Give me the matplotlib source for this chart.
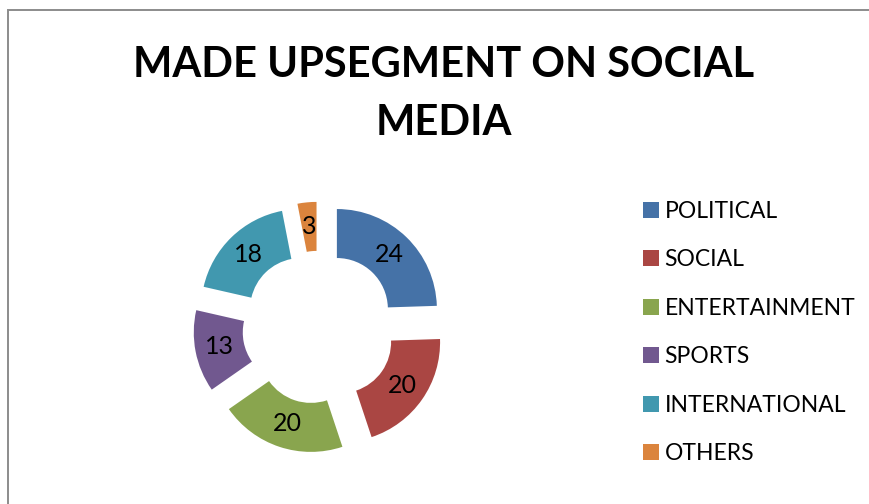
import matplotlib.pyplot as plt
from matplotlib.patches import Rectangle

categories = ['POLITICAL', 'SOCIAL', 'ENTERTAINMENT', 'SPORTS', 'INTERNATIONAL', 'OTHERS']
counts = [24, 20, 20, 13, 18, 3]
colors = ['#4572A7', '#AA4643', '#89A54E', '#71588F', '#4198AF', '#DB843D']

plt.rcParams['font.family'] = ['Lato', 'DejaVu Sans']

W, H = 869, 504
fig = plt.figure(figsize=(W / 100, H / 100), dpi=100)

# chart area frame (only top and left edges are visible)
fig.patches.append(Rectangle((8 / W, -0.5), 2, (H - 10) / H + 0.5,
                             transform=fig.transFigure, fill=False,
                             edgecolor='#8c8c8c', linewidth=1.4))

fig.text(444 / W, 1 - 77 / H, 'MADE UPSEGMENT ON SOCIAL', ha='center',
         va='baseline', fontsize=30, fontweight='bold')
fig.text(444 / W, 1 - 135 / H, 'MEDIA', ha='center',
         va='baseline', fontsize=30, fontweight='bold')

# doughnut: 1 data unit = 100 px
cx, cy, half = 319, 327.5, 150
ax = fig.add_axes([(cx - half) / W, (H - cy - half) / H, 2 * half / W, 2 * half / H])
wedges, texts = ax.pie(counts, labels=[str(c) for c in counts], colors=colors,
                       startangle=90, counterclock=False, radius=1.0,
                       explode=[0.257] * len(counts), labeldistance=0.755,
                       wedgeprops=dict(width=0.49, linewidth=0),
                       textprops=dict(fontsize=18, color='black'))
for t in texts:
    t.set_ha('center')
ax.set_xlim(-1.5, 1.5)
ax.set_ylim(-1.5, 1.5)
ax.set_aspect('equal')

fig.legend(wedges, categories, loc='upper left',
           bbox_to_anchor=(622 / W, 1 - 180 / H), frameon=False,
           fontsize=16.5, handlelength=0.7, handleheight=0.7,
           handletextpad=0.25, labelspacing=1.2)

fig.savefig('out.png', dpi=100, facecolor='white')
